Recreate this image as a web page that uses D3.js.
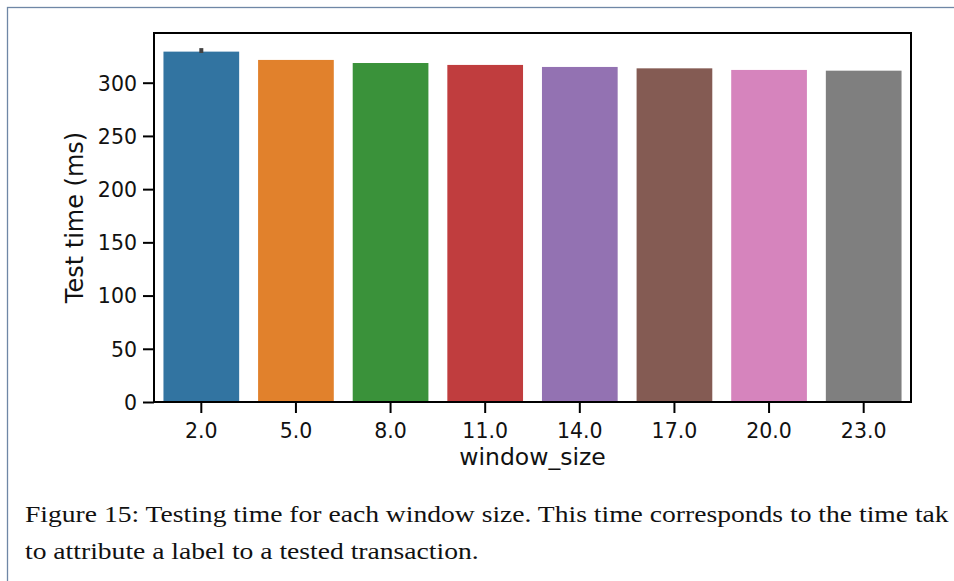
<!DOCTYPE html>
<html lang="en">
<head>
<meta charset="UTF-8">
<title>Testing time per window size</title>
<script src="https://d3js.org/d3.v7.min.js"></script>
<style>
  body { margin: 0; background: #fff; overflow: hidden; }
  svg { display: block; }
  .tick text { font-family: "DejaVu Sans", sans-serif; }
</style>
</head>
<body>
<svg id="chart" width="954" height="581"></svg>
<script>
// data
var windowSizes = ["2.0", "5.0", "8.0", "11.0", "14.0", "17.0", "20.0", "23.0"];
var testTimes = [329.2, 321.4, 318.5, 316.7, 314.8, 313.5, 312.0, 311.3];
var ciLow = [327.9, 321.4, 318.5, 316.7, 314.8, 313.5, 312.0, 311.3];
var ciHigh = [332.5, 321.4, 318.5, 316.7, 314.8, 313.5, 312.0, 311.3];
var barColors = ["#3274a1", "#e1812c", "#3a923a", "#c03d3e", "#9372b2", "#845b53", "#d684bd", "#7f7f7f"];
var yTicks = [0, 50, 100, 150, 200, 250, 300];
// the screenshot cuts the first caption line at "tak"
var captionLines = [
  "Figure 15: Testing time for each window size. This time corresponds to the time tak",
  "to attribute a label to a tested transaction."
];

var svg = d3.select("#chart");

// page frame
svg.append("rect")
  .attr("x", 7.5).attr("y", 7.5)
  .attr("width", 1200).attr("height", 1200)
  .attr("fill", "none")
  .attr("stroke", "#6f87a6")
  .attr("stroke-width", 1.3);

var margin = { left: 154, top: 33, right: 911, bottom: 402 };

var x = d3.scaleBand()
  .domain(windowSizes)
  .range([margin.left, margin.right])
  .paddingInner(0.2)
  .paddingOuter(0.1);

var y = d3.scaleLinear()
  .domain([0, 346.7])
  .range([margin.bottom, margin.top]);

// bars
svg.append("g")
  .selectAll("rect")
  .data(windowSizes)
  .enter()
  .append("rect")
  .attr("x", function(d) { return x(d); })
  .attr("width", x.bandwidth())
  .attr("y", function(d, i) { return y(testTimes[i]); })
  .attr("height", function(d, i) { return y(0) - y(testTimes[i]); })
  .attr("fill", function(d, i) { return barColors[i]; });

// error bars
svg.append("g")
  .selectAll("line")
  .data(windowSizes)
  .enter()
  .append("line")
  .attr("x1", function(d) { return x(d) + x.bandwidth() / 2; })
  .attr("x2", function(d) { return x(d) + x.bandwidth() / 2; })
  .attr("y1", function(d, i) { return y(ciLow[i]); })
  .attr("y2", function(d, i) { return y(ciHigh[i]); })
  .attr("stroke", "#424242")
  .attr("stroke-width", 4);

// axes
var xAxis = svg.append("g")
  .attr("transform", "translate(0," + margin.bottom + ")")
  .call(d3.axisBottom(x).tickSizeInner(11).tickSizeOuter(0).tickPadding(6));

var yAxis = svg.append("g")
  .attr("transform", "translate(" + margin.left + ",0)")
  .call(d3.axisLeft(y).tickValues(yTicks).tickSizeInner(11).tickSizeOuter(0).tickPadding(6));

[xAxis, yAxis].forEach(function(a) {
  a.select(".domain").remove();
  a.selectAll(".tick line").attr("stroke", "#000").attr("stroke-width", 2);
  a.selectAll(".tick text")
    .attr("fill", "#111")
    .style("font-size", "20.5px");
});
xAxis.selectAll(".tick text").attr("dy", "0.95em");
yAxis.selectAll(".tick text").attr("dy", "0.36em");

// frame (spines)
svg.append("rect")
  .attr("x", margin.left).attr("y", margin.top)
  .attr("width", margin.right - margin.left)
  .attr("height", margin.bottom - margin.top)
  .attr("fill", "none")
  .attr("stroke", "#000")
  .attr("stroke-width", 2);

// axis labels
svg.append("text")
  .attr("x", (margin.left + margin.right) / 2)
  .attr("y", 465)
  .attr("text-anchor", "middle")
  .style("font-family", "DejaVu Sans, sans-serif")
  .style("font-size", "23.5px")
  .attr("fill", "#111")
  .text("window_size");

svg.append("text")
  .attr("transform", "translate(83," + (margin.top + margin.bottom) / 2 + ") rotate(-90)")
  .attr("text-anchor", "middle")
  .style("font-family", "DejaVu Sans, sans-serif")
  .style("font-size", "24px")
  .attr("fill", "#111")
  .text("Test time (ms)");

// caption (latex-like serif, a bit wider than Times)
svg.append("g")
  .attr("transform", "translate(25,0) scale(1.15,1)")
  .selectAll("text")
  .data(captionLines)
  .enter()
  .append("text")
  .attr("x", 0)
  .attr("y", function(d, i) { return 522 + i * 37; })
  .style("font-family", "Liberation Serif, serif")
  .style("font-size", "24px")
  .attr("fill", "#111")
  .text(function(d) { return d; });
</script>
</body>
</html>
